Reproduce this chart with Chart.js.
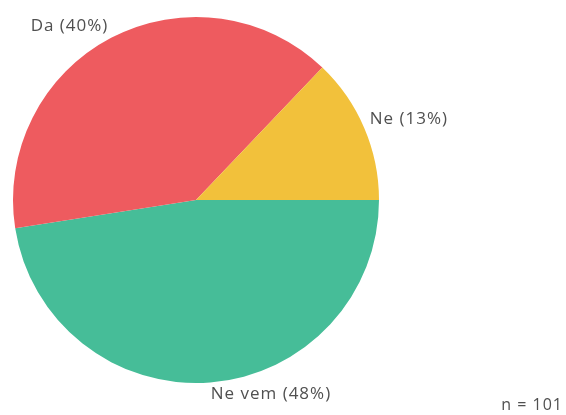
<!DOCTYPE html>
<html>
<head>
<meta charset="utf-8">
<script src="https://cdn.jsdelivr.net/npm/chart.js@4"></script>
<style>
  html, body { margin: 0; padding: 0; background: #fff; }
  #wrap { width: 566px; height: 415px; position: relative; }
</style>
</head>
<body>
<div id="wrap"><canvas id="pieChart"></canvas></div>
<script>
// Answers, drawn clockwise starting at 3 o'clock
const labels = ['Ne vem', 'Da', 'Ne'];
const counts = [48, 40, 13];
const colors = ['#46BD98', '#EE5B5F', '#F2C13B'];
const sampleNote = 'n = 101';

const total = counts.reduce((a, b) => a + b, 0);

// Outside labels, placed from each arc's own geometry
const outsideLabels = {
    id: 'outsideLabels',
    afterDraw(chart) {
        const c = chart.ctx;
        const arcs = chart.getDatasetMeta(0).data;
        c.save();
        c.font = '17px "Open Sans", sans-serif';
        c.letterSpacing = '1px';
        c.fillStyle = '#505050';
        c.textBaseline = 'middle';
        arcs.forEach((arc, i) => {
            const mid = (arc.startAngle + arc.endAngle) / 2;
            const r = arc.outerRadius + 6;
            const x = arc.x + Math.cos(mid) * r;
            const y = arc.y + Math.sin(mid) * r;
            const up = Math.sin(mid) < 0;
            c.textAlign = Math.cos(mid) >= 0 ? 'left' : 'right';
            const pct = Math.round(counts[i] / total * 100);
            c.fillText(labels[i] + ' (' + pct + '%)', x, y + (up ? -6 : 6));
        });
        c.font = '16px "Open Sans", sans-serif';
        c.textAlign = 'right';
        c.fillText(sampleNote, chart.width - 3, chart.height - 10);
        c.restore();
    }
};

new Chart(document.getElementById('pieChart'), {
    type: 'pie',
    data: {
        labels: labels,
        datasets: [{
            data: counts,
            backgroundColor: colors,
            borderWidth: 0
        }]
    },
    options: {
        responsive: true,
        maintainAspectRatio: false,
        animation: false,
        rotation: 90,
        layout: {
            padding: { left: 13, top: 17, right: 187, bottom: 32 }
        },
        plugins: {
            legend: { display: false },
            tooltip: { enabled: false }
        }
    },
    plugins: [outsideLabels]
});
</script>
</body>
</html>
